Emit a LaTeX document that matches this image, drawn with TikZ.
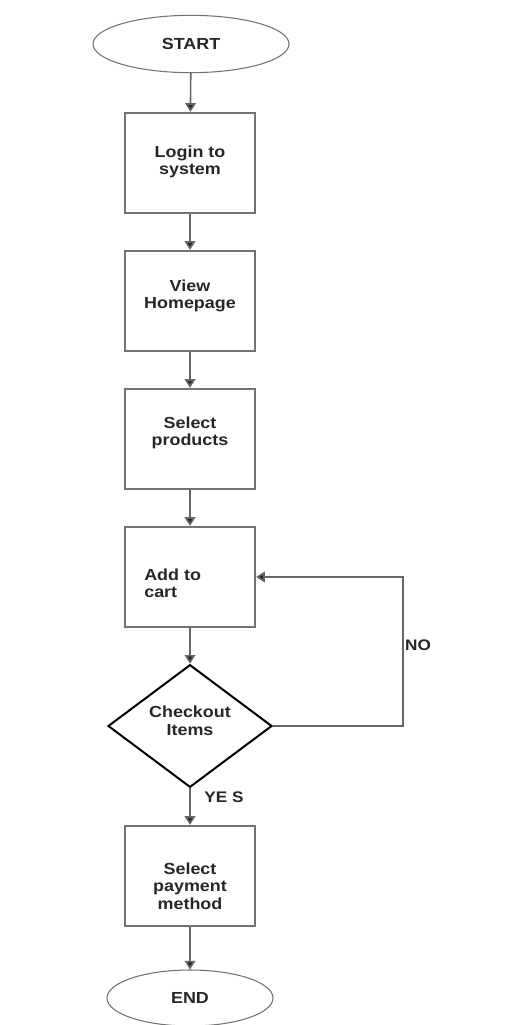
\documentclass[tikz,border=0pt]{standalone}
\usepackage{fontspec}
\setmainfont{Liberation Sans}[FakeStretch=1.12]
\usetikzlibrary{shapes.geometric,arrows.meta}
\begin{document}
\begin{tikzpicture}[x=0.75pt,y=-0.75pt,
  font=\fontsize{12}{13}\selectfont\bfseries,
  every node/.style={align=center,text=black!85},
  every label/.style={inner sep=0pt},
  terminal/.style={ellipse,draw=black!55,line width=0.8pt,inner sep=0pt},
  stepbox/.style={rectangle,draw=black!55,line width=1.7pt,
    minimum width=97.5pt,minimum height=75pt,inner sep=0pt},
  decision/.style={diamond,draw=black,line width=1.5pt,
    minimum width=123pt,minimum height=92pt,inner sep=0pt},
  flow/.style={draw=black!60,line width=1.2pt,
    -{Triangle[width=8pt,length=6.5pt,fill=black!85]}},
  lbl/.style={font=\fontsize{11.5}{13}\selectfont\bfseries}]
\useasboundingbox (0,0) rectangle (517,1025);

\node[terminal,minimum width=147pt,minimum height=43pt] (start) at (191,44) {START};
\node[stepbox,label={[yshift=1pt]center:Login to\\system}] (b1) at (190,163) {};
\node[stepbox,label={[yshift=4pt]center:View\\Homepage}] (b2) at (190,301) {};
\node[stepbox,label={[yshift=4.5pt]center:Select\\products}] (b3) at (190,439) {};
\node[stepbox,label={[yshift=-4.5pt,xshift=-13pt,align=left]center:Add to\\cart}] (b4) at (190,577) {};
\node[decision,label={[yshift=4pt]center:Checkout\\Items}] (dec) at (190,726) {};
\node[stepbox,label={[yshift=-7.5pt]center:Select\\payment\\method}] (b5) at (190,876) {};
\node[terminal,minimum width=124.5pt,minimum height=42pt] (end) at (190,998) {END};

\coordinate (ret) at (403,577);

\draw[flow] (start) -- (b1);
\draw[flow] (b1) -- (b2);
\draw[flow] (b2) -- (b3);
\draw[flow] (b3) -- (b4);
\draw[flow] (b4) -- (dec);
\draw[flow] (dec) -- (b5);
\draw[flow] (b5) -- (end);
\draw[flow] (dec.east) -| (ret) -- (b4.east);

\node[lbl] (no) at (418,645) {NO};
\node[lbl] (yes) at (224,797) {YE S};
\end{tikzpicture}
\end{document}
